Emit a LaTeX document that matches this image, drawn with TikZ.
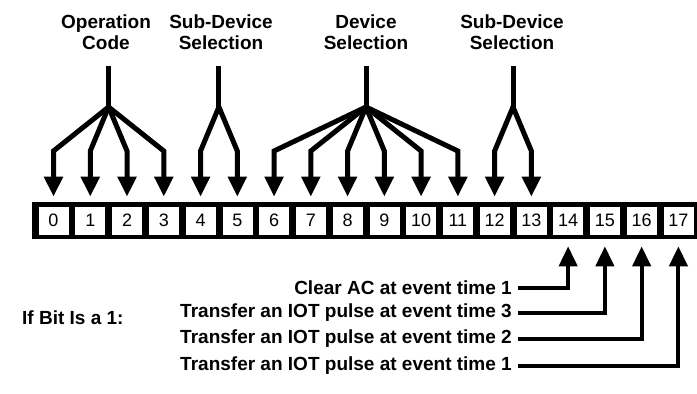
\documentclass[tikz,border=0pt]{standalone}
\usepackage{fontspec}
\setmainfont{Liberation Sans}
\usetikzlibrary{positioning}
\usetikzlibrary{calc}
\usetikzlibrary{arrows.meta}
\tikzset{>={Triangle[width=18pt,length=20pt]}}
\tikzstyle{regnode}=[fill=black,shape=rectangle,minimum width=666.5pt,minimum height=37pt,inner sep=0pt]
\tikzstyle{bitnode}=[draw=black,line width=0.6pt,fill=white,shape=rectangle,minimum width=31pt,minimum height=29pt,inner sep=0pt,font=\fontsize{18}{18}\selectfont]
\tikzstyle{fieldlabel}=[align=center,inner sep=0pt,font=\bfseries\fontsize{19}{21}\selectfont]
\tikzstyle{eventlabel}=[anchor=east,inner sep=0pt,font=\bfseries\fontsize{19}{21}\selectfont]
\tikzstyle{fanline}=[line width=5pt,color=black]
\tikzstyle{fanarrow}=[->,line width=5pt,color=black,line cap=round,shorten >=9pt]
\tikzstyle{pulsearrow}=[->,line width=4pt,color=black,shorten >=11pt,shorten <=6pt]

\begin{document}
\begin{tikzpicture}[x=1pt,y=-1pt]
	\useasboundingbox (0,0) rectangle (697,394);
	
	% Register bits 0-17
	\node[regnode] (reg) at (365.3, 220.5) {};
	\foreach \b in {0,...,17}
		\node[bitnode] (b\b) at ({53.5+36.76*\b}, 220.5) {\b};
	
	% Bends of the fan-out branches
	\coordinate (bend) at (0, 151);
	
	% Operation code
	\node[fieldlabel] (oplabel) at (106, 32) {Operation\\Code};
	\coordinate (optop) at (108.6, 66);
	\coordinate (opfork) at (108.6, 107);
	\draw[fanline] (optop) -- ($(opfork) + (0, 2)$);
	\foreach \b in {0,...,3}
		\draw[fanarrow] (opfork) -- (b\b |- bend) -- (b\b.north);
	
	% Sub-device selection (4-5)
	\node[fieldlabel] (sublabela) at (221, 32) {Sub-Device\\Selection};
	\coordinate (subtopa) at (218.9, 66);
	\coordinate (subforka) at (218.9, 107);
	\draw[fanline] (subtopa) -- ($(subforka) + (0, 2)$);
	\foreach \b in {4,5}
		\draw[fanarrow] (subforka) -- (b\b |- bend) -- (b\b.north);
	
	% Device selection
	\node[fieldlabel] (devlabel) at (366, 32) {Device\\Selection};
	\coordinate (devtop) at (366, 66);
	\coordinate (devfork) at (366, 107);
	\draw[fanline] (devtop) -- ($(devfork) + (0, 2)$);
	\foreach \b in {6,...,11}
		\draw[fanarrow] (devfork) -- (b\b |- bend) -- (b\b.north);
	
	% Sub-device selection (12-13)
	\node[fieldlabel] (sublabelb) at (512, 32) {Sub-Device\\Selection};
	\coordinate (subtopb) at (513, 66);
	\coordinate (subforkb) at (513, 107);
	\draw[fanline] (subtopb) -- ($(subforkb) + (0, 2)$);
	\foreach \b in {12,13}
		\draw[fanarrow] (subforkb) -- (b\b |- bend) -- (b\b.north);
	
	% Control bits
	\node[anchor=west, inner sep=0pt, font=\bfseries\fontsize{19}{21}\selectfont] (ifbit) at (22, 318) {If Bit Is a 1:};
	\node[eventlabel] (clearac) at (512, 288) {Clear AC at event time 1};
	\node[eventlabel] (iotc) at (512, 313) {Transfer an IOT pulse at event time 3};
	\node[eventlabel] (iotb) at (512, 339) {Transfer an IOT pulse at event time 2};
	\node[eventlabel] (iota) at (512, 366) {Transfer an IOT pulse at event time 1};
	\draw[pulsearrow] (clearac.east) -- (clearac -| b14) -- (b14.south);
	\draw[pulsearrow] (iotc.east) -- (iotc -| b15) -- (b15.south);
	\draw[pulsearrow] (iotb.east) -- (iotb -| b16) -- (b16.south);
	\draw[pulsearrow] (iota.east) -- (iota -| b17) -- (b17.south);
	
\end{tikzpicture}
\end{document}
